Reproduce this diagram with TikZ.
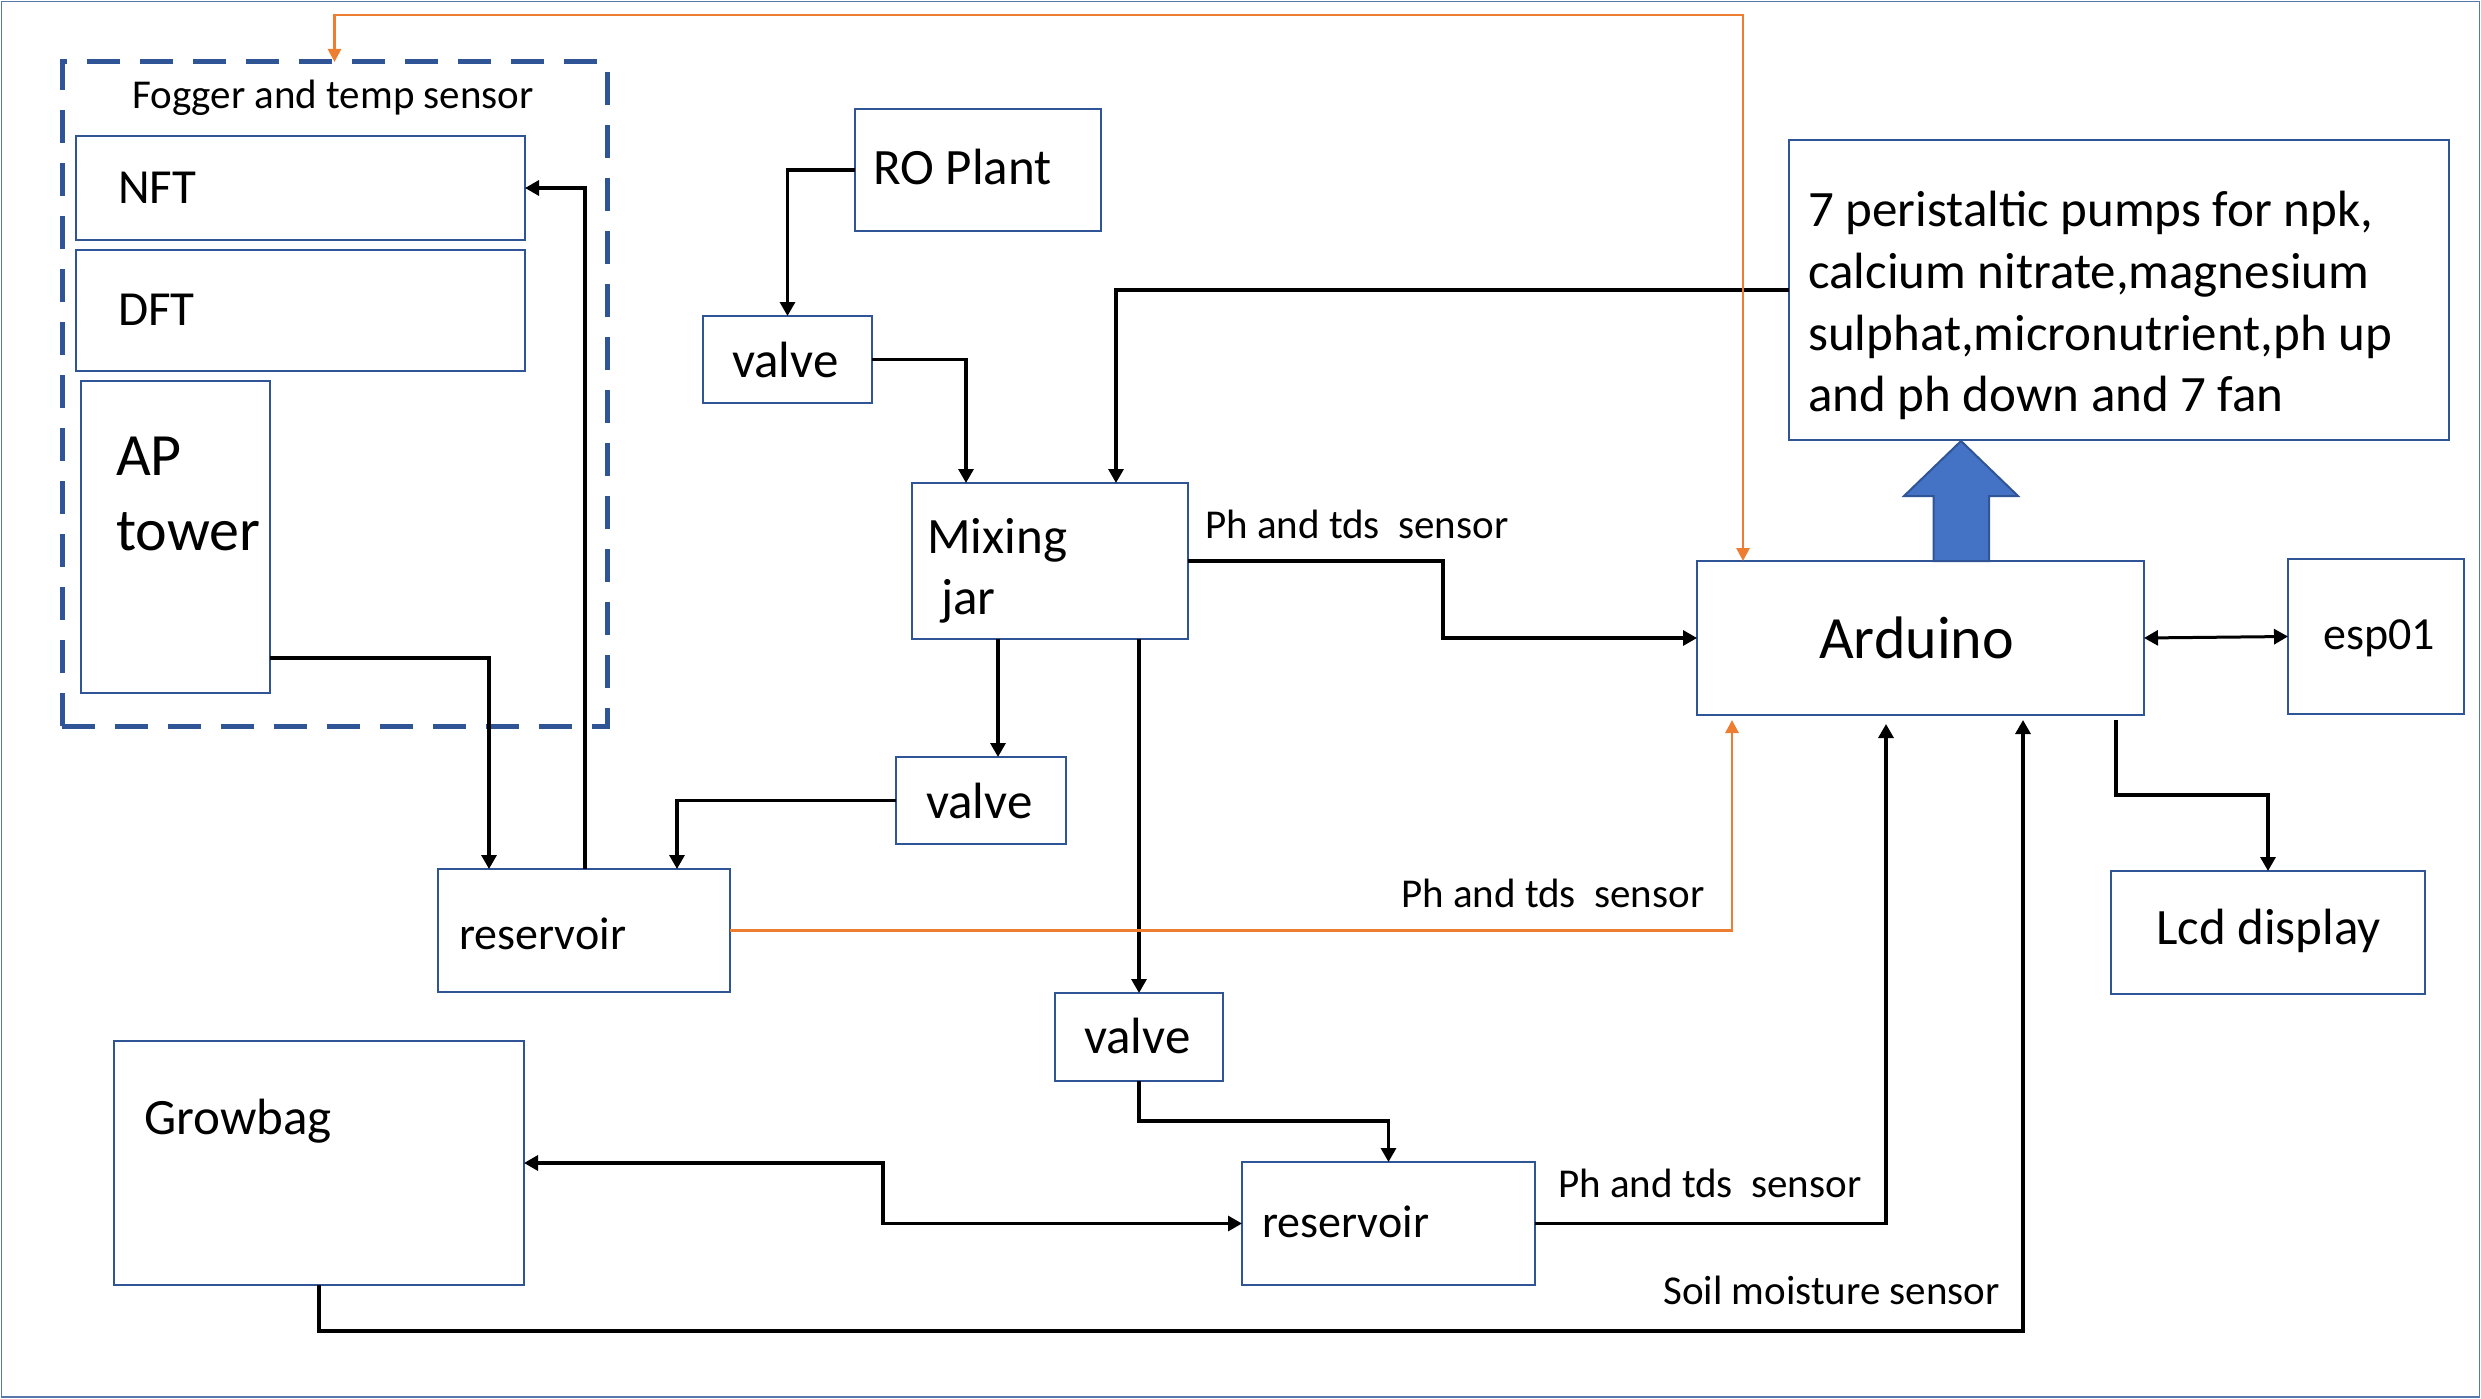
\documentclass[tikz,border=0pt]{standalone}
\usepackage{fontspec}
\setmainfont{Carlito}
\usetikzlibrary{arrows.meta,calc}
\definecolor{bxblue}{HTML}{2F5597}
\definecolor{fillblue}{HTML}{4472C4}
\definecolor{orng}{HTML}{ED7D31}
\begin{document}
\begin{tikzpicture}[x=1pt,y=-1pt,
  box/.style={draw=bxblue,line width=2.5pt,inner sep=0pt,outer sep=0pt,anchor=north west},
  dbox/.style={draw=bxblue,line width=5pt,dash pattern=on 33pt off 20pt,inner sep=0pt,outer sep=0pt,anchor=north west},
  txt/.style={anchor=base west,inner sep=0pt,text=black},
  conn/.style={line width=3.2pt,black,-{Triangle[length=14pt,width=15pt]}},
  conn2/.style={line width=3.2pt,black,{Triangle[length=14pt,width=15pt]}-{Triangle[length=14pt,width=15pt]}},
  oconn/.style={line width=2.8pt,orng,-{Triangle[length=13pt,width=13pt]}},
  oconn2/.style={line width=2.8pt,orng,{Triangle[length=13pt,width=13pt]}-{Triangle[length=13pt,width=13pt]}},
  fA/.style={font=\fontsize{41}{49}\selectfont},
  fB/.style={font=\fontsize{49}{59}\selectfont},
  fC/.style={font=\fontsize{51}{61.5}\selectfont},
  fD/.style={font=\fontsize{60}{72}\selectfont},
  fE/.style={font=\fontsize{46}{55}\selectfont},
]
\useasboundingbox (0,0) rectangle (2481,1399);
\draw[bxblue!80,line width=1.5pt] (1.5,1.5) rectangle (2479.5,1397);

% boxes
\node[dbox,minimum width=545pt,minimum height=664pt] (fog) at (62,62) {};
\node[box,minimum width=449pt,minimum height=104pt] (nft) at (76,136) {};
\node[box,minimum width=449pt,minimum height=121pt] (dft) at (76,250) {};
\node[box,minimum width=189pt,minimum height=312pt] (ap) at (81,381) {};
\node[box,minimum width=246pt,minimum height=122pt] (ro) at (855,109) {};
\node[box,minimum width=169pt,minimum height=87pt] (valve1) at (703,316) {};
\node[box,minimum width=276pt,minimum height=156pt] (mix) at (912,483) {};
\node[box,minimum width=170pt,minimum height=87pt] (valve2) at (896,757) {};
\node[box,minimum width=292pt,minimum height=123pt] (res1) at (438,869) {};
\node[box,minimum width=168pt,minimum height=88pt] (valve3) at (1055,993) {};
\node[box,minimum width=410pt,minimum height=244pt] (grow) at (114,1041) {};
\node[box,minimum width=293pt,minimum height=123pt] (res2) at (1242,1162) {};
\node[box,minimum width=660pt,minimum height=300pt] (pumps) at (1789,140) {};
\node[box,minimum width=447pt,minimum height=154pt] (ard) at (1697,561) {};
\node[box,minimum width=176pt,minimum height=155pt] (esp) at (2288,559) {};
\node[box,minimum width=314pt,minimum height=123pt] (lcd) at (2111,871) {};

% texts
\node[txt,fA] (tfog) at (132,109) {Fogger and temp sensor};
\node[txt,fB] (tnft) at (118,204) {NFT};
\node[txt,fB] (tdft) at (118,325) {DFT};
\node[txt,fD] (tap1) at (116,475) {AP};
\node[txt,fD] (tap2) at (116,550) {tower};
\node[txt,fC] (tro) at (873,185) {RO Plant};
\node[txt,fC] (tv1) at (732,377) {valve};
\node[txt,fC] (tmix1) at (927,553) {Mixing};
\node[txt,fC] (tmix2) at (941,614) {jar};
\node[txt,fC] (tv2) at (926,818) {valve};
\node[txt,fE] (tres1) at (459,949) {reservoir};
\node[txt,fC] (tv3) at (1084,1053) {valve};
\node[txt,fC] (tgrow) at (144,1134) {Growbag};
\node[txt,fE] (tres2) at (1262,1237) {reservoir};
\node[txt,fC] (tp1) at (1808,226) {7 peristaltic pumps for npk,};
\node[txt,fC] (tp2) at (1808,288) {calcium nitrate,magnesium};
\node[txt,fC] (tp3) at (1808,350) {sulphat,micronutrient,ph up};
\node[txt,fC] (tp4) at (1808,411) {and ph down and 7 fan};
\node[txt,fD] (tard) at (1819,658) {Arduino};
\node[txt,fE] (tesp) at (2323,649) {esp01};
\node[txt,fC] (tlcd) at (2156,944) {Lcd display};
\node[txt,fA] (lph1) at (1205,538) {Ph and tds\ \ sensor};
\node[txt,fA] (lph2) at (1401,907) {Ph and tds\ \ sensor};
\node[txt,fA] (lph3) at (1558,1197) {Ph and tds\ \ sensor};
\node[txt,fA] (lsoil) at (1663,1304) {Soil moisture sensor};

% black connectors
\draw[conn] (ro.west) -| (valve1.north);
\draw[conn] (valve1.east) -| ([xshift=54pt]mix.north west);
\draw[conn] (pumps.west) -| ([xshift=204pt]mix.north west);
\draw[conn] (mix.east) -- ++(255,0) |- (ard.west);
\draw[conn] ([xshift=86pt]mix.south west) -- ([xshift=86pt]mix.south west |- valve2.north);
\draw[conn] (valve2.west) -| ([xshift=239pt]res1.north west);
\draw[conn] (valve3.north |- mix.south) -- (valve3.north);
\draw[conn] (valve3.south) -- ++(0,40) -| (res2.north);
\draw[conn2] (grow.east) -- ++(359,0) |- (res2.west);
\draw[conn] ([yshift=35pt]ap.south east) -| ([xshift=51pt]res1.north west);
\draw[conn] ([xshift=147pt]res1.north west) |- (nft.east);
\draw[conn] (res2.east) -| ([xshift=189pt,yshift=-9pt]ard.south west);
\draw[conn] ([xshift=205pt]grow.south west) -- ++(0,46) -| ([xshift=326pt,yshift=-5pt]ard.south west);
\draw[conn2,line width=3pt] (ard.east) -- (esp.west);
\draw[conn] ([xshift=-28pt,yshift=-5pt]ard.south east) -- ++(0,75) -| (lcd.north);

% orange connectors
\draw[oconn] (res1.east) -| ([xshift=35pt,yshift=-5pt]ard.south west);
\draw[oconn2] (fog.north) -- ++(0,-47) -| ([xshift=46pt]ard.north west);

% block arrow
\filldraw[fill=fillblue,draw=bxblue,line width=2pt]
  ($(ard.north)+(13,0)$) -- ($(ard.north)+(13,-65)$) -- ($(ard.north)+(-16.5,-65)$)
  -- ($(ard.north)+(40.5,-120)$) -- ($(ard.north)+(97.5,-65)$) -- ($(ard.north)+(68.5,-65)$)
  -- ($(ard.north)+(68.5,0)$) -- cycle;
\end{tikzpicture}
\end{document}
